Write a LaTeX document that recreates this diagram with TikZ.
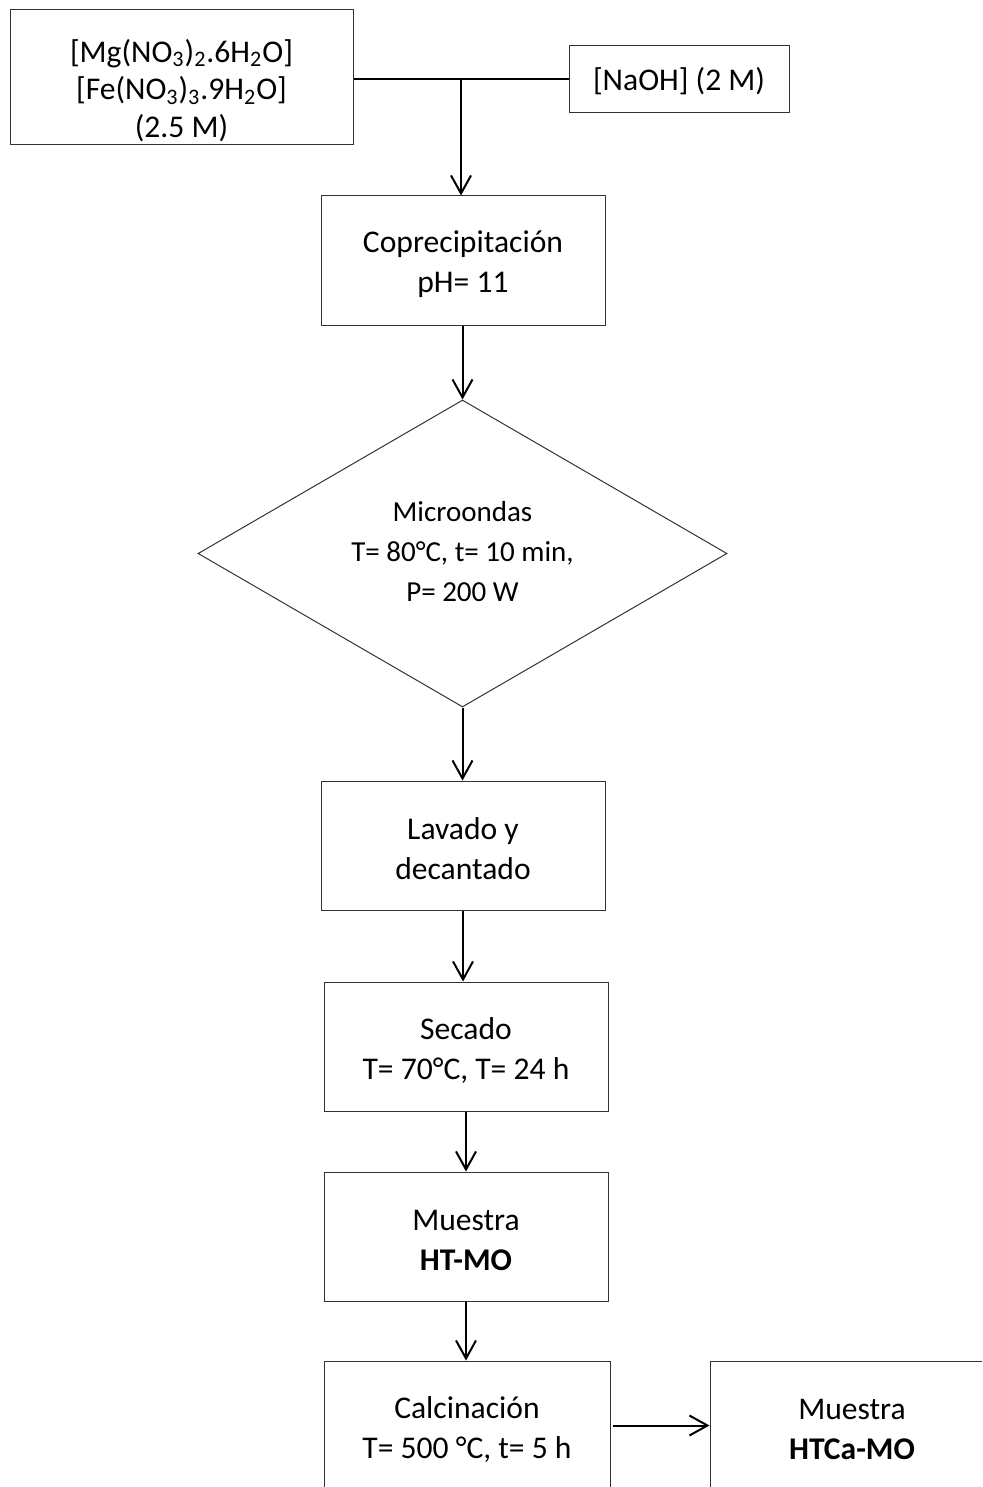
\documentclass[tikz,border=0pt]{standalone}
\usepackage{fontspec}
\setmainfont{Carlito}
\usetikzlibrary{arrows.meta,shapes.geometric}
\begin{document}
\begin{tikzpicture}[x=0.5pt,y=-0.5pt,
  edge/.style={draw=black!80,line width=0.5pt},
  box/.style={edge,rectangle,inner sep=0pt,
    minimum width=142pt,minimum height=64.5pt},
  % caption of a box, set a little below its centre
  txt/.style={align=center,inner sep=0pt,font=\fontsize{15.8}{20}\selectfont,yshift=-1.8pt},
  rhomb/.style={edge,diamond,inner sep=0pt,
    minimum width=264.5pt,minimum height=153.5pt},
  flow/.style={line width=1pt,-{Straight Barb[length=9pt,width=10pt,line width=1pt]}},
  link/.style={line width=1pt}]
\useasboundingbox (0,0) rectangle (982,1487);
\clip (0,0) rectangle (982,1487);
\fill[white] (0,0) rectangle (982,1487);

% reagents
\node[box,minimum width=171.5pt,minimum height=67.5pt] (sal) at (181.5,77.5) {};
\node[txt,font=\fontsize{15.8}{18.8}\selectfont,yshift=-4.6pt] (sal-t) at (sal.center)
   {{[Mg(NO\textsubscript{3})\textsubscript{2}.6H\textsubscript{2}O]}\\
    {[Fe(NO\textsubscript{3})\textsubscript{3}.9H\textsubscript{2}O]}\\
    (2.5 M)};
\node[box,minimum width=110pt,minimum height=33.5pt] (naoh) at (679,79.5) {};
\node[txt,yshift=1pt] (naoh-t) at (naoh.center) {[NaOH] (2 M)};
\coordinate (mix) at (461,79.5);

% process steps
\node[box] (copre) at (463,260.5) {};
\node[txt] (copre-t) at (copre.center) {Coprecipitación\\pH= 11};
\node[rhomb] (micro) at (462.5,553.5) {};
\node[txt,font=\fontsize{14.5}{20}\selectfont,yshift=2.6pt] (micro-t) at (micro.center)
   {Microondas\\T= 80°C, t= 10 min,\\P= 200 W};
\node[box] (lavado) at (463,845.5) {};
\node[txt] (lavado-t) at (lavado.center) {Lavado y\\decantado};
\node[box] (secado) at (466,1046.5) {};
\node[txt] (secado-t) at (secado.center) {Secado\\T= 70°C, T= 24 h};
\node[box] (htmo) at (466,1236.5) {};
\node[txt] (htmo-t) at (htmo.center) {Muestra\\\textbf{HT-MO}};
\node[box,minimum width=143pt] (calc) at (467,1425.5) {};
\node[txt] (calc-t) at (calc.center) {Calcinación\\T= 500 °C, t= 5 h};
\node[box] (htca) at (852,1425.5) {};
\node[txt] (htca-t) at (htca.center) {Muestra\\\textbf{HTCa-MO}};

% connectors
\draw[link] (sal.east |- mix) -- (mix) -- (naoh.west |- mix);
\draw[flow] (mix) -- (mix |- copre.north);
\draw[flow] (copre.south -| micro.north) -- (micro.north);
\draw[flow] (micro.south) -- (micro.south |- lavado.north);
\draw[flow] (lavado.south) -- (lavado.south |- secado.north);
\draw[flow] (secado.south) -- (htmo.north);
\draw[flow] (htmo.south) -- (htmo.south |- calc.north);
\draw[flow] ([xshift=1pt]calc.east) -- (htca.west);
\end{tikzpicture}
\end{document}
